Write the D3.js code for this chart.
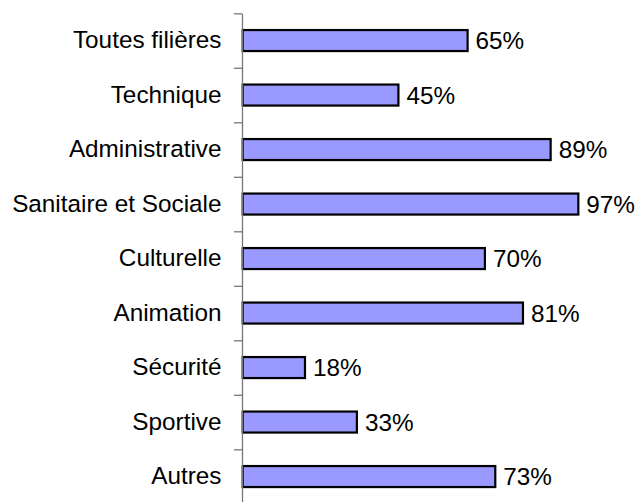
<!DOCTYPE html>
<html>
<head>
<meta charset="utf-8">
<script src="https://cdn.jsdelivr.net/npm/d3@7"></script>
<style>
  body { margin: 0; background: #fff; }
  text { font-family: "Liberation Sans", Arial, sans-serif; }
</style>
</head>
<body>
<div id="chart"></div>
<script>
// categories top to bottom
const categories = [
    "Toutes filières",
    "Technique",
    "Administrative",
    "Sanitaire et Sociale",
    "Culturelle",
    "Animation",
    "Sécurité",
    "Sportive",
    "Autres"
];

// share in %
const values = [65, 45, 89, 97, 70, 81, 18, 33, 73];

const width = 642, height = 502;
const plotLeft = 242, plotTop = 13.3;
const step = 54.5;
const barH = 21;

const svg = d3.select("#chart")
    .append("svg")
    .attr("width", width)
    .attr("height", height);

const y = d3.scaleBand()
    .domain(categories)
    .range([plotTop, plotTop + step * categories.length])
    .padding(0);

const x = d3.scaleLinear()
    .domain([0, 100])
    .range([plotLeft + 0.7, plotLeft + 0.7 + 346]);

// tick marks sit between categories
const yEdge = d3.scaleLinear()
    .domain([0, categories.length])
    .range([plotTop, plotTop + step * categories.length]);

// bars
svg.selectAll(".bar")
    .data(values)
    .enter()
    .append("rect")
    .attr("class", "bar")
    .attr("x", x(0))
    .attr("y", (d, i) => y(categories[i]) + (y.bandwidth() - barH) / 2)
    .attr("width", d => x(d) - x(0))
    .attr("height", barH)
    .attr("fill", "#9999ff")
    .attr("stroke", "#000")
    .attr("stroke-width", 2.2);

const axisG = svg.append("g")
    .attr("transform", `translate(${plotLeft},0)`);

axisG.call(d3.axisLeft(yEdge)
        .tickValues(d3.range(categories.length + 1))
        .tickSize(8)
        .tickSizeOuter(0)
        .tickFormat(""));
axisG.select(".domain").attr("stroke", "#777").attr("stroke-width", 1.3);
axisG.selectAll(".tick line").attr("stroke", "#777").attr("stroke-width", 1.3);

// category labels
const labelG = svg.append("g")
    .attr("transform", `translate(${plotLeft},0)`)
    .call(d3.axisLeft(y).tickSize(0).tickPadding(20.5));
labelG.select(".domain").remove();
labelG.selectAll("text")
    .attr("fill", "#000")
    .style("font-family", '"Liberation Sans", Arial, sans-serif')
    .style("font-size", "24.3px");

// value labels
svg.selectAll(".val")
    .data(values)
    .enter()
    .append("text")
    .attr("class", "val")
    .attr("x", d => x(d) + 8)
    .attr("y", (d, i) => y(categories[i]) + y.bandwidth() / 2)
    .attr("dy", "0.35em")
    .attr("fill", "#000")
    .style("font-size", "24.3px")
    .text(d => d + "%");
</script>
</body>
</html>
